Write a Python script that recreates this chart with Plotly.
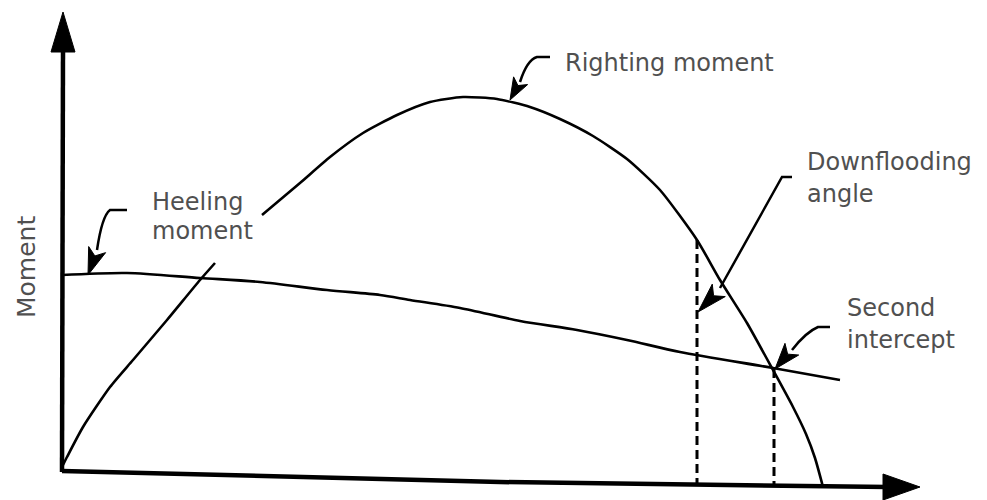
import math
import plotly.graph_objects as go

# heel angle vs moment (arbitrary units, origin at the axes corner)
righting_angle = [1, 5, 21, 48, 71, 105, 138, 153, None,
                  200, 238, 268, 301, 335, 368, 401, 435, 468, 498, 531, 565,
                  598, 635, 658, 685, 711, 731, 744, 753, 761]
righting_moment = [7, 15, 45, 85, 112, 152, 192, 209, None,
                   257, 289, 315, 339, 357, 370, 375, 373, 365, 353, 336, 313,
                   282, 232, 192, 149, 102, 65, 38, 14, -15]

heeling_angle = [0, 65, 138, 198, 265, 318, 348, 398, 458, 515, 565, 618,
                 711, 778]
heeling_moment = [197, 199, 194, 190, 182, 177, 172, 164, 151, 142, 132, 120,
                  104, 92]

flood_angle = [635, 635]
flood_moment = [232, -13]
second_angle = [712, 712]
second_moment = [103, -14]

INK = "black"
TEXT = "#505050"
FONT = "DejaVu Sans"

# the drawing is laid out in screen pixels; these turn them into axis units
OX, OY = 62, 472


def P(px, py):
    return px - OX, OY - py


def pt(px, py):
    x, y = P(px, py)
    return f"{x},{y}"


def head(tip, frm, length, half, notch=0.0):
    """filled arrowhead path pointing from frm to tip (pixel coords)"""
    dx, dy = tip[0] - frm[0], tip[1] - frm[1]
    n = math.hypot(dx, dy)
    ux, uy = dx / n, dy / n
    bx, by = tip[0] - ux * length, tip[1] - uy * length
    l = (bx - uy * half, by + ux * half)
    r = (bx + uy * half, by - ux * half)
    m = (bx + ux * length * notch, by + uy * length * notch)
    path = f"M{pt(*tip)} L{pt(*l)} L{pt(*m)} L{pt(*r)} Z"
    return dict(type="path", path=path, xref="x", yref="y",
                fillcolor=INK, line=dict(color=INK, width=1))


def tail(path):
    return dict(type="path", path=path, xref="x", yref="y",
                line=dict(color=INK, width=2.5))


fig = go.Figure()

fig.add_trace(go.Scatter(x=righting_angle, y=righting_moment, mode="lines",
                         line=dict(color=INK, width=2.6, shape="spline",
                                   smoothing=0.6),
                         hoverinfo="skip", showlegend=False))
fig.add_trace(go.Scatter(x=heeling_angle, y=heeling_moment, mode="lines",
                         line=dict(color=INK, width=2.6, shape="spline",
                                   smoothing=0.8),
                         hoverinfo="skip", showlegend=False))
for xs, ys in [(flood_angle, flood_moment), (second_angle, second_moment)]:
    fig.add_trace(go.Scatter(x=xs, y=ys, mode="lines",
                             line=dict(color=INK, width=3, dash="9px,5px"),
                             hoverinfo="skip", showlegend=False))

shapes = [
    # axes
    dict(type="path", path=f"M{pt(62, 472)} L{pt(63, 48)}", xref="x", yref="y",
         line=dict(color=INK, width=4.5)),
    dict(type="path", path=f"M{pt(62, 471)} L{pt(500, 482)} L{pt(888, 487)}",
         xref="x", yref="y", line=dict(color=INK, width=4.5)),
    head((63, 12), (63, 60), 40, 12),
    head((920, 487), (880, 487), 37, 13),
    # pointer tails and heads
    tail(f"M{pt(550, 57)} L{pt(537, 57)} Q{pt(527, 60)} {pt(520, 82)}"),
    head((510, 100), (521, 80), 22, 8, 0.25),
    tail(f"M{pt(127, 210)} L{pt(110, 210)} Q{pt(102, 216)} {pt(97, 250)}"),
    head((88, 275), (97, 250), 27, 9, 0.25),
    tail(f"M{pt(792, 177)} L{pt(782, 177)} L{pt(720, 288)}"),
    head((698, 312), (722, 287), 30, 9, 0.25),
    tail(f"M{pt(830, 327)} L{pt(818, 327)} Q{pt(806, 332)} {pt(792, 350)}"),
    head((775, 369), (792, 349), 26, 9, 0.25),
]

labels = [
    ("Righting moment", 563, 63),
    ("Heeling", 150, 202),
    ("moment", 150, 231),
    ("Downflooding", 805, 162),
    ("angle", 805, 194),
    ("Second", 845, 308),
    ("intercept", 845, 340),
]
annotations = []
for text, px, py in labels:
    x, y = P(px, py)
    annotations.append(dict(text=text, x=x, y=y, xref="x", yref="y",
                            xanchor="left", yanchor="middle", showarrow=False,
                            font=dict(family=FONT, size=24, color=TEXT)))
mx, my = P(26, 267)
annotations.append(dict(text="Moment", x=mx, y=my, xref="x", yref="y",
                        textangle=-90, showarrow=False,
                        font=dict(family=FONT, size=25, color=TEXT)))

fig.update_layout(
    width=987, height=500,
    margin=dict(l=0, r=0, t=0, b=0),
    paper_bgcolor="white", plot_bgcolor="white",
    xaxis=dict(range=[-OX, 987 - OX], visible=False, fixedrange=True),
    yaxis=dict(range=[OY - 500, OY], visible=False, fixedrange=True),
    shapes=shapes,
    annotations=annotations,
    showlegend=False,
)

fig.write_html("out.html", config={"displayModeBar": False},
               post_script="document.body.style.margin = '0';")
